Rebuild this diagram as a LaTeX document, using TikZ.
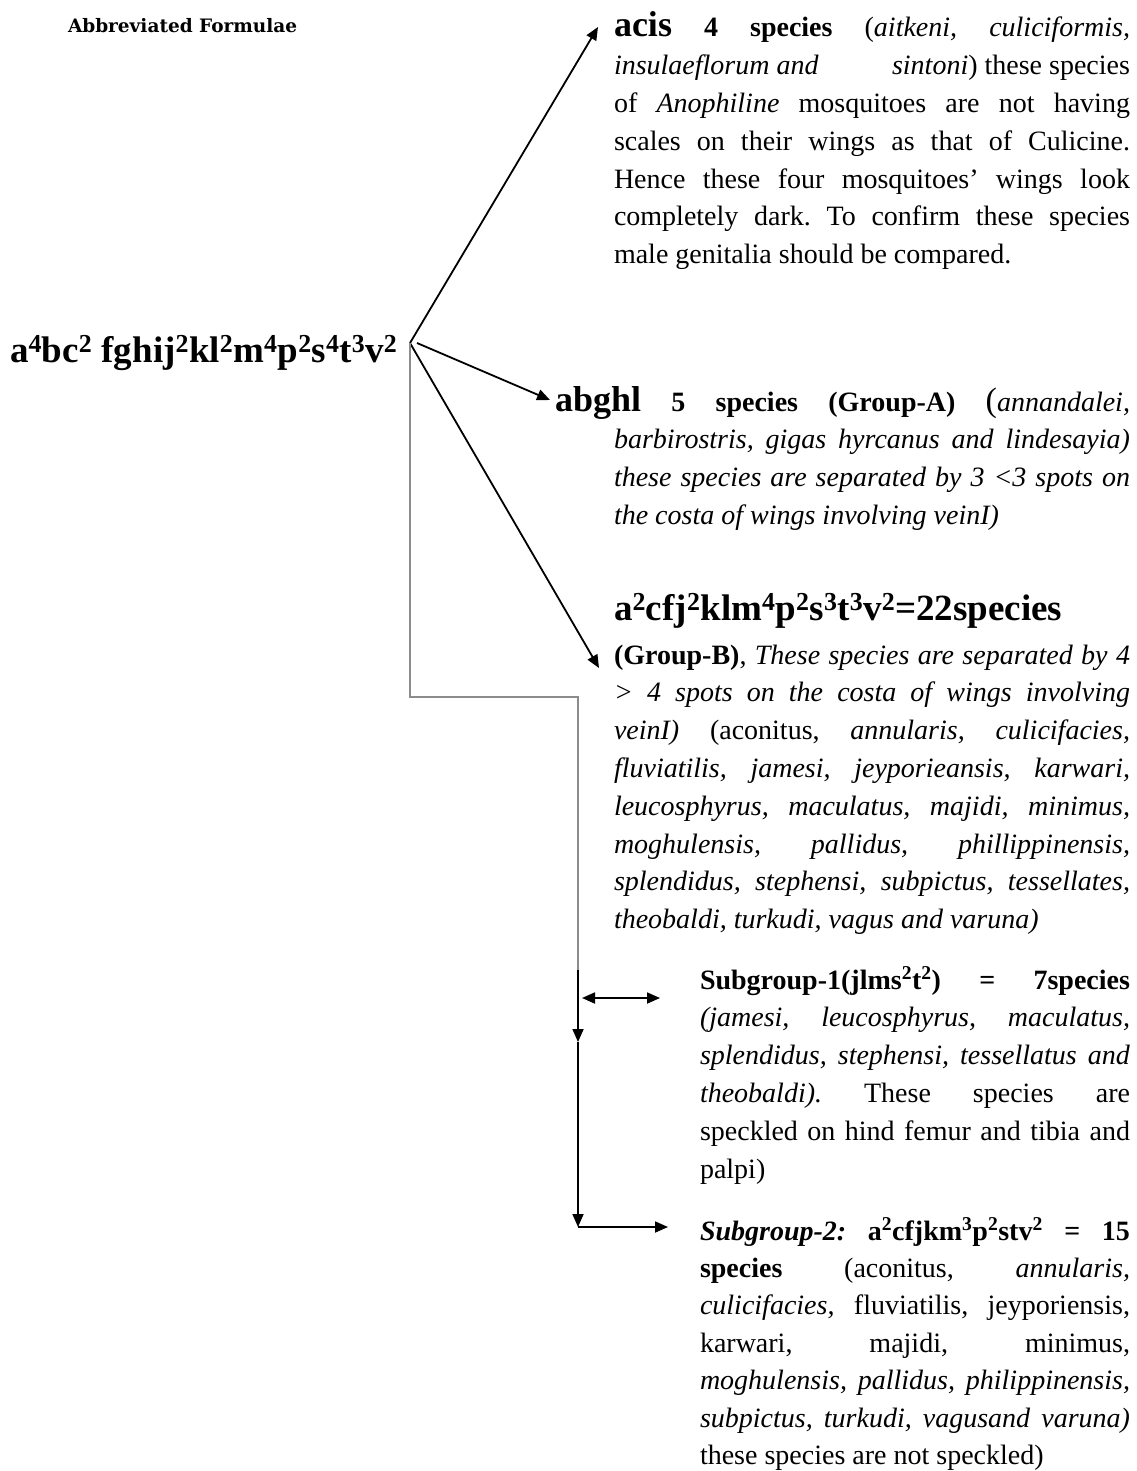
\documentclass[tikz,border=0pt]{standalone}
\usepackage{fontspec}
\setmainfont{Liberation Serif}
\newfontfamily\titlefont{DejaVu Serif}
\usetikzlibrary{arrows.meta}
\newcommand\hbig[1]{{\fontsize{36}{37.8}\selectfont\bfseries #1}}
\frenchspacing
\begin{document}
\begin{tikzpicture}[x=1pt,y=-1pt,
  every node/.style={inner sep=0pt,outer sep=0pt},
  para/.style={anchor=base west,align=justify,text width=#1,
    font=\fontsize{28}{37.8}\selectfont},
  para/.default=516pt,
  formula/.style={anchor=base west,font=\fontsize{37}{40}\selectfont\bfseries},
  link/.style={line width=1.8pt,draw=black},
  greylink/.style={line width=2pt,draw=black!45},
  tip/.style={-{Triangle[length=13pt,width=11pt]}},
  twotip/.style={{Triangle[length=13pt,width=11pt]}-{Triangle[length=13pt,width=11pt]}}]
\useasboundingbox (0,0) rectangle (1136,1471);

% title and root formula
\node[anchor=base west,font=\titlefont\bfseries\fontsize{18.5}{20}\selectfont] (title) at (68,33) {Abbreviated Formulae};
\node[formula] (root) at (10,362) {a\textsuperscript{4}bc\textsuperscript{2} fghij\textsuperscript{2}kl\textsuperscript{2}m\textsuperscript{4}p\textsuperscript{2}s\textsuperscript{4}t\textsuperscript{3}v\textsuperscript{2}};

% branch: acis
\node[para] (acis) at (614,37) {\hbig{acis} \textbf{4 species} (\textit{aitkeni, culiciformis,}\linebreak
\textit{insulaeflorum and}\hfill\textit{sintoni}) these species\linebreak
of \textit{Anophiline} mosquitoes are not having\linebreak
scales on their wings as that of Culicine.\linebreak
Hence these four mosquitoes’ wings look\linebreak
completely dark. To confirm these species\linebreak
male genitalia should be compared.};

% branch: abghl (Group-A)
\node[para] (abghl) at (614,411) {\hspace*{-59pt}\hbig{abghl} \textbf{5 species (Group-A)} {\fontsize{34}{37.8}\selectfont(}\textit{annandalei,}\linebreak
\textit{barbirostris, gigas hyrcanus and lindesayia)}\linebreak
\textit{these species are separated by 3 <3 spots on}\linebreak
\textit{the costa of wings involving veinI)}};

% branch: Group-B
\node[formula] (gbhead) at (614,620) {a\textsuperscript{2}cfj\textsuperscript{2}klm\textsuperscript{4}p\textsuperscript{2}s\textsuperscript{3}t\textsuperscript{3}v\textsuperscript{2}=22species};
\node[para] (gbbody) at (614,664) {\textbf{(Group-B)}, \textit{These species are separated by 4}\linebreak
\textit{> 4 spots on the costa of wings involving}\linebreak
\textit{veinI)} (aconitus, \textit{annularis, culicifacies,}\linebreak
\textit{fluviatilis, jamesi, jeyporieansis, karwari,}\linebreak
\textit{leucosphyrus, maculatus, majidi, minimus,}\linebreak
\textit{moghulensis, pallidus, phillippinensis,}\linebreak
\textit{splendidus, stephensi, subpictus, tessellates,}\linebreak
\textit{theobaldi, turkudi, vagus and varuna)}};

% subgroups of Group-B
\node[para=430pt] (sg1) at (700,989) {\textbf{Subgroup-1(jlms\textsuperscript{2}t\textsuperscript{2}) = 7species}\linebreak
\textit{(jamesi, leucosphyrus, maculatus,}\linebreak
\textit{splendidus, stephensi, tessellatus and}\linebreak
\textit{theobaldi).} These species are\linebreak
speckled on hind femur and tibia and\linebreak
palpi)};
\node[para=430pt,font=\fontsize{28}{37.4}\selectfont] (sg2) at (700,1240) {\textbf{\textit{Subgroup-2:}} \textbf{a\textsuperscript{2}cfjkm\textsuperscript{3}p\textsuperscript{2}stv\textsuperscript{2} = 15}\linebreak
\textbf{species} (aconitus, \textit{annularis,}\linebreak
\textit{culicifacies,} fluviatilis, jeyporiensis,\linebreak
karwari, majidi, minimus,\linebreak
\textit{moghulensis, pallidus, philippinensis,}\linebreak
\textit{subpictus, turkudi, vagusand varuna)}\linebreak
these species are not speckled)};

% connector points
\coordinate (hub) at (410,343);
\coordinate (acisin) at (598,27);
\coordinate (abin) at (550,400);
\coordinate (gbin) at (599,668);
\coordinate (elbowA) at (410,697);
\coordinate (elbowB) at (578,697);
\coordinate (sgtop) at (578,970);
\coordinate (sgmid) at (578,1042);
\coordinate (corner) at (578,1227);
\coordinate (sgonefrom) at (582,998);
\coordinate (sgonein) at (660,998);
\coordinate (sgtwoin) at (668,1227);

% connectors
\draw[link,tip] (hub) -- (acisin);
\draw[link,tip] ([xshift=7pt]hub) -- (abin);
\draw[link,tip] (hub) -- (gbin);
\draw[greylink] (hub) -- (elbowA) -- (elbowB) -- (sgtop);
\draw[link,tip] (sgtop) -- (sgmid);
\draw[link,tip] (sgmid) -- (corner);
\draw[link,tip] (corner) -- (sgtwoin);
\draw[link,twotip] (sgonefrom) -- (sgonein);
\end{tikzpicture}
\end{document}
